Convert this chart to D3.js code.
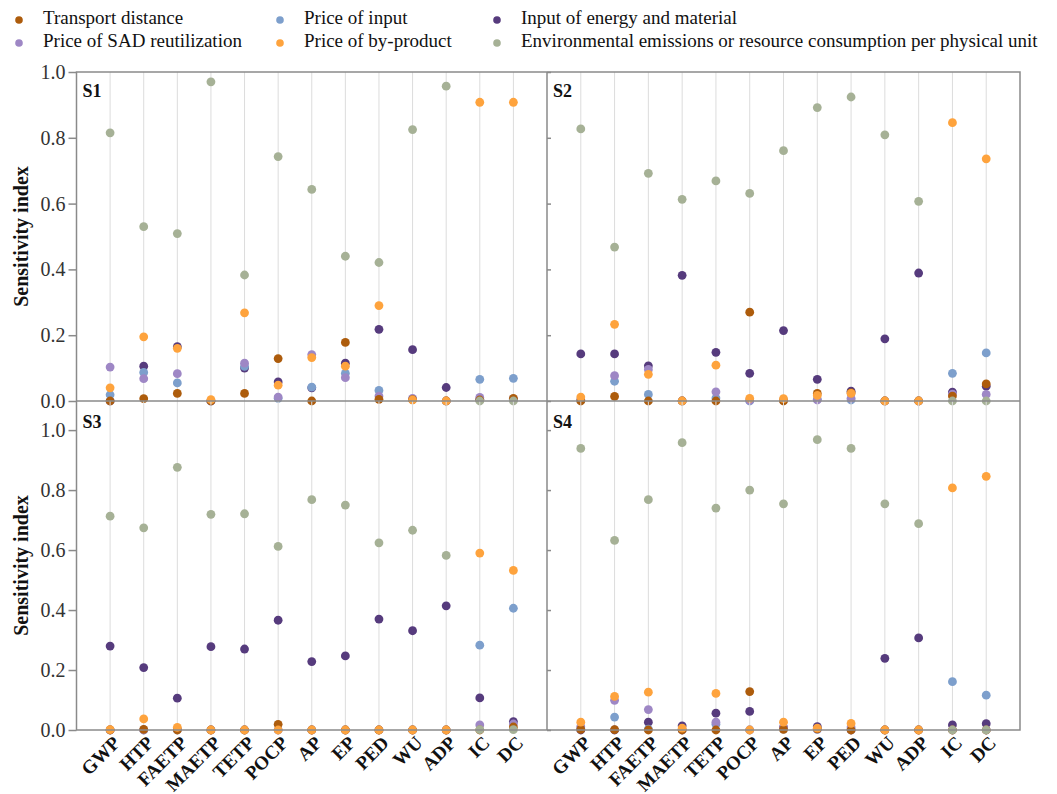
<!DOCTYPE html>
<html>
<head>
<meta charset="utf-8">
<script src="https://cdn.jsdelivr.net/npm/d3@7"></script>
<style>
  html, body { margin: 0; padding: 0; background: #fff; }
  svg { display: block; font-family: "Liberation Serif", "Times New Roman", serif; }
</style>
</head>
<body>
<svg id="chart" width="1057" height="794"></svg>
<script>
// Impact categories on the x axis
const categories = ["GWP", "HTP", "FAETP", "MAETP", "TETP", "POCP", "AP", "EP", "PED", "WU", "ADP", "IC", "DC"];

// Parameters (legend order) and their colours
const seriesNames = [
  "Transport distance", "Price of input", "Input of energy and material",
  "Price of SAD reutilization", "Price of by-product",
  "Environmental emissions or resource consumption per physical unit"
];
const seriesColors = ["#ad5c0c", "#7d9fcc", "#563b7d", "#9e87c5", "#fea33d", "#a6b196"];

// Sensitivity indices, scenario S1
const s1Transport = [0.000, 0.007, 0.023, 0.000, 0.023, 0.129, 0.000, 0.178, 0.005, 0.004, 0.000, 0.003, 0.008];
const s1InputPrice = [0.019, 0.087, 0.055, 0.000, 0.105, 0.008, 0.042, 0.084, 0.032, 0.004, 0.000, 0.066, 0.069];
const s1Energy = [0.000, 0.106, 0.165, 0.000, 0.100, 0.058, 0.040, 0.115, 0.218, 0.156, 0.041, 0.005, 0.005];
const s1SadPrice = [0.103, 0.068, 0.083, 0.000, 0.115, 0.012, 0.141, 0.071, 0.015, 0.008, 0.000, 0.011, 0.006];
const s1ByProduct = [0.040, 0.195, 0.160, 0.004, 0.268, 0.048, 0.132, 0.106, 0.290, 0.003, 0.000, 0.908, 0.908];
const s1Emission = [0.815, 0.530, 0.509, 0.970, 0.383, 0.743, 0.643, 0.440, 0.421, 0.825, 0.957, 0.000, 0.000];

// Scenario S2
const s2Transport = [0.000, 0.014, 0.000, 0.000, 0.000, 0.270, 0.000, 0.023, 0.025, 0.000, 0.000, 0.015, 0.052];
const s2InputPrice = [0.002, 0.060, 0.020, 0.000, 0.009, 0.000, 0.002, 0.005, 0.003, 0.000, 0.000, 0.084, 0.146];
const s2Energy = [0.143, 0.143, 0.107, 0.382, 0.148, 0.084, 0.214, 0.066, 0.030, 0.189, 0.389, 0.027, 0.045];
const s2SadPrice = [0.004, 0.077, 0.096, 0.000, 0.028, 0.002, 0.003, 0.003, 0.008, 0.000, 0.000, 0.021, 0.020];
const s2ByProduct = [0.012, 0.233, 0.081, 0.000, 0.109, 0.008, 0.007, 0.017, 0.023, 0.000, 0.000, 0.846, 0.736];
const s2Emission = [0.827, 0.468, 0.692, 0.613, 0.669, 0.631, 0.761, 0.892, 0.924, 0.809, 0.607, 0.000, 0.000];

// Scenario S3
const s3Transport = [0.000, 0.002, 0.000, 0.000, 0.000, 0.019, 0.000, 0.000, 0.000, 0.000, 0.000, 0.000, 0.010];
const s3InputPrice = [0.000, 0.000, 0.000, 0.000, 0.000, 0.000, 0.000, 0.000, 0.000, 0.000, 0.000, 0.283, 0.406];
const s3Energy = [0.280, 0.208, 0.106, 0.278, 0.270, 0.366, 0.228, 0.247, 0.370, 0.331, 0.414, 0.107, 0.028];
const s3SadPrice = [0.000, 0.000, 0.003, 0.000, 0.000, 0.000, 0.000, 0.000, 0.000, 0.000, 0.000, 0.017, 0.020];
const s3ByProduct = [0.001, 0.037, 0.009, 0.000, 0.000, 0.000, 0.000, 0.000, 0.000, 0.000, 0.000, 0.590, 0.532];
const s3Emission = [0.713, 0.674, 0.876, 0.719, 0.721, 0.612, 0.768, 0.750, 0.624, 0.666, 0.582, 0.001, 0.001];

// Scenario S4
const s4Transport = [0.002, 0.001, 0.000, 0.000, 0.000, 0.128, 0.002, 0.004, 0.000, 0.000, 0.000, 0.000, 0.000];
const s4InputPrice = [0.005, 0.043, 0.003, 0.000, 0.019, 0.000, 0.003, 0.002, 0.003, 0.000, 0.000, 0.161, 0.116];
const s4Energy = [0.000, 0.000, 0.026, 0.014, 0.056, 0.062, 0.008, 0.011, 0.000, 0.239, 0.307, 0.017, 0.021];
const s4SadPrice = [0.011, 0.099, 0.068, 0.000, 0.026, 0.000, 0.010, 0.003, 0.010, 0.000, 0.000, 0.000, 0.000];
const s4ByProduct = [0.026, 0.112, 0.126, 0.006, 0.122, 0.000, 0.026, 0.006, 0.022, 0.000, 0.000, 0.807, 0.846];
const s4Emission = [0.939, 0.632, 0.768, 0.958, 0.740, 0.800, 0.754, 0.968, 0.939, 0.754, 0.688, 0.000, 0.000];

const yTicks = [0, 0.2, 0.4, 0.6, 0.8, 1.0];

// Order in which series are painted (later ones sit on top)
const paintOrder = [2, 1, 3, 0, 4, 5];

const panels = [
  { label: "S1", col: 0, row: 0, series: [s1Transport, s1InputPrice, s1Energy, s1SadPrice, s1ByProduct, s1Emission] },
  { label: "S2", col: 1, row: 0, series: [s2Transport, s2InputPrice, s2Energy, s2SadPrice, s2ByProduct, s2Emission] },
  { label: "S3", col: 0, row: 1, series: [s3Transport, s3InputPrice, s3Energy, s3SadPrice, s3ByProduct, s3Emission] },
  { label: "S4", col: 1, row: 1, series: [s4Transport, s4InputPrice, s4Energy, s4SadPrice, s4ByProduct, s4Emission] }
];

const svg = d3.select("#chart");
const colEdges = [76.5, 547, 1020];
const rowEdges = [72, 401, 730];
const yMax = [1.0, 1.097];
const frameColor = "#8a8a8a";

panels.forEach(p => {
  const x0 = colEdges[p.col], x1 = colEdges[p.col + 1];
  const yTop = rowEdges[p.row], yBot = rowEdges[p.row + 1];
  const x = d3.scalePoint().domain(categories).range([x0, x1]).padding(1);
  const y = d3.scaleLinear().domain([0, yMax[p.row]]).range([yBot, yTop]);
  const g = svg.append("g");

  // vertical guide lines per category
  g.selectAll("line.grid").data(categories).join("line")
    .attr("x1", d => x(d)).attr("x2", d => x(d))
    .attr("y1", yTop).attr("y2", yBot)
    .attr("stroke", "#dcdcdc").attr("stroke-width", 1);

  // y axis
  if (p.col === 0) {
    const ax = g.append("g").attr("transform", `translate(${x0},0)`)
      .call(d3.axisLeft(y).tickValues(yTicks).tickFormat(d3.format(".1f")).tickSize(8).tickPadding(3));
    ax.attr("font-family", null).attr("font-size", null);
    ax.select(".domain").remove();
    ax.selectAll("line").attr("stroke", frameColor).attr("stroke-width", 1.5);
    ax.selectAll("text").attr("font-size", 20).attr("fill", "#333");
    g.append("text")
      .attr("transform", `translate(23,${(yTop + yBot) / 2}) rotate(-90)`)
      .attr("text-anchor", "middle").attr("dominant-baseline", "middle")
      .attr("font-size", 20).attr("font-weight", "bold").attr("fill", "#111")
      .text("Sensitivity index");
  } else {
    const ax = g.append("g").attr("transform", `translate(${x0},0)`)
      .call(d3.axisRight(y).tickValues(yTicks).tickFormat("").tickSize(4));
    ax.select(".domain").remove();
    ax.selectAll("line").attr("stroke", frameColor).attr("stroke-width", 1.5);
  }

  // x labels on the lower row
  if (p.row === 1) {
    g.selectAll("text.cat").data(categories).join("text")
      .attr("transform", d => `translate(${x(d) + 8},${yBot + 11}) rotate(-45)`)
      .attr("text-anchor", "end").attr("dominant-baseline", "middle")
      .attr("font-size", 19).attr("font-weight", "bold").attr("fill", "#111")
      .text(d => d);
  }

  // points
  paintOrder.forEach(si => {
    g.append("g").selectAll("circle").data(p.series[si]).join("circle")
      .attr("cx", (d, i) => x(categories[i]))
      .attr("cy", d => y(d))
      .attr("r", 4.4)
      .attr("fill", seriesColors[si]);
  });

  // panel label
  g.append("text")
    .attr("x", x0 + 6).attr("y", p.row === 0 ? yTop + 25 : yTop + 27)
    .attr("font-size", 18).attr("font-weight", "bold").attr("fill", "#111")
    .text(p.label);
});

// frame
svg.append("rect")
  .attr("x", colEdges[0]).attr("y", rowEdges[0])
  .attr("width", colEdges[2] - colEdges[0]).attr("height", rowEdges[2] - rowEdges[0])
  .attr("fill", "none").attr("stroke", frameColor).attr("stroke-width", 1.5);
svg.append("line")
  .attr("x1", colEdges[1]).attr("x2", colEdges[1]).attr("y1", rowEdges[0]).attr("y2", rowEdges[2])
  .attr("stroke", frameColor).attr("stroke-width", 1.5);
svg.append("line")
  .attr("x1", colEdges[0]).attr("x2", colEdges[2]).attr("y1", rowEdges[1]).attr("y2", rowEdges[1])
  .attr("stroke", frameColor).attr("stroke-width", 1.5);

// legend
const legendCols = [19, 280, 497];
const legendRows = [20, 43];
const legend = svg.append("g");
seriesNames.forEach((name, i) => {
  const cx = legendCols[i % 3], cy = legendRows[Math.floor(i / 3)];
  legend.append("circle").attr("cx", cx).attr("cy", cy).attr("r", 3.8).attr("fill", seriesColors[i]);
  legend.append("text").attr("x", cx + 24).attr("y", cy)
    .attr("dominant-baseline", "middle").attr("font-size", 19).attr("fill", "#111")
    .text(name);
});
</script>
</body>
</html>
